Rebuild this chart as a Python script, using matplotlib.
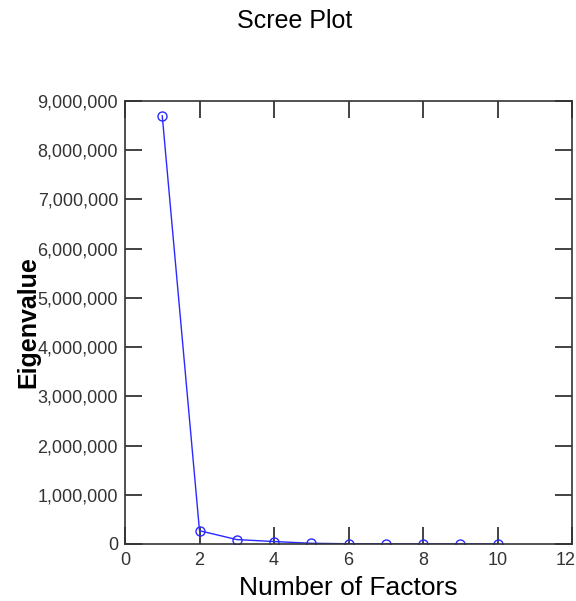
import matplotlib
matplotlib.use("Agg")
import matplotlib.pyplot as plt
import matplotlib.transforms as mtransforms
from matplotlib.ticker import FuncFormatter, MultipleLocator

plt.rcParams['font.family'] = ['Liberation Sans', 'DejaVu Sans']

factors = [1, 2, 3, 4, 5, 6, 7, 8, 9, 10]
eigenvalues = [8700000, 270000, 90000, 50000, 15000, 5000, 2000, 1000, 500, 200]

fig = plt.figure(figsize=(5.76, 6.01), dpi=100)
ax = fig.add_axes([125/576, 57/601, 447/576, 443/601])
ax.plot(factors, eigenvalues, color='#2a2aff', lw=1, marker='o', ms=6.5,
        mfc='none', mec='#2a2aff', mew=1)
ax.set_xlim(0, 12)
ax.set_ylim(0, 9000000)
ax.xaxis.set_major_locator(MultipleLocator(2))
ax.yaxis.set_major_locator(MultipleLocator(1000000))
ax.yaxis.set_major_formatter(FuncFormatter(lambda v, p: f"{int(v):,}"))
ax.tick_params(direction='in', length=12, width=1.2, top=True, right=True,
               labelsize=13, colors='#222222', labelcolor='#333333')
ax.tick_params(axis='x', pad=6)
ax.tick_params(axis='y', pad=5)
for s in ax.spines.values():
    s.set_linewidth(1.2)
    s.set_color('#333333')
ax.set_xlabel('Number of Factors', fontsize=19, labelpad=5)
ax.set_ylabel('Eigenvalue', fontsize=18, fontweight='bold', labelpad=-2)
fig.text(295/576, 1 - 21/601, 'Scree Plot', ha='center', va='center', fontsize=18)

fig.canvas.draw()
labels = ax.get_xticklabels()
offset = mtransforms.ScaledTranslation(-6/100, 0, fig.dpi_scale_trans)
for lab in labels:
    if lab.get_text() == '12':
        lab.set_transform(lab.get_transform() + offset)
fig.savefig('out.png', dpi=100)
